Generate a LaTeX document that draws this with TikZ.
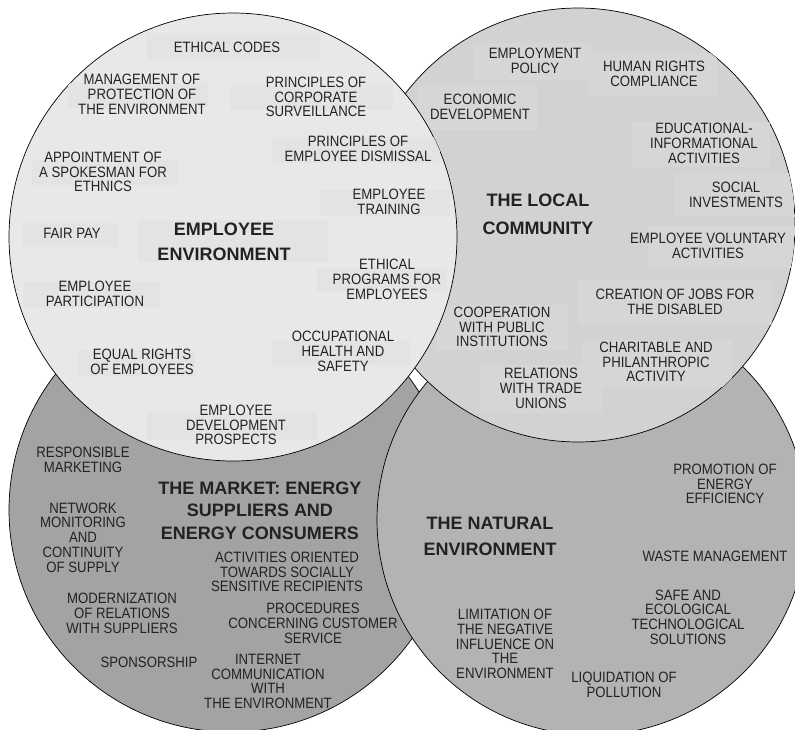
\documentclass[tikz,border=0pt]{standalone}
\usepackage{fontspec}
\setmainfont{Liberation Sans}
\newfontfamily\narrowfont{Liberation Sans}[FakeStretch=0.88]
\definecolor{tlfill}{HTML}{E8E8E8}
\definecolor{tlbox}{HTML}{E3E3E3}
\definecolor{trfill}{HTML}{D2D2D2}
\definecolor{trbox}{HTML}{D6D6D6}
\definecolor{blfill}{HTML}{A3A3A3}
\definecolor{brfill}{HTML}{B3B3B3}
\definecolor{txt}{HTML}{222222}
\tikzset{
  circ/.style={circle, draw=black, line width=0.7pt, inner sep=0pt},
  lbl/.style={align=center, inner sep=0pt, text=txt, font=\narrowfont\fontsize{15}{14.7}\selectfont},
  ttl/.style={align=center, inner sep=0pt, text=txt, font=\bfseries\fontsize{18}{25}\selectfont},
}
\begin{document}
\begin{tikzpicture}[x=1pt,y=-1pt]
\useasboundingbox (0,0) rectangle (795,729);
\clip (0,0) rectangle (795,729);
% circles (back to front)
\node[circ, fill=blfill, minimum size=444pt] (bl) at (231,510) {};
\node[circ, fill=brfill, minimum size=430pt] (br) at (592,520) {};
\node[circ, fill=trfill, minimum size=434pt] (tr) at (578,225) {};
\begin{scope}
  \clip (tr.center) circle[radius=217pt];
  \fill[trbox] (473,43) rectangle (592,80);
  \fill[trbox] (588,53) rectangle (717,97);
  \fill[trbox] (417,85) rectangle (537,130);
  \fill[trbox] (632,122) rectangle (770,167);
  \fill[trbox] (675,173) rectangle (795,217);
  \fill[trbox] (648,226) rectangle (795,268);
  \fill[trbox] (578,280) rectangle (772,325);
  \fill[trbox] (437,305) rectangle (568,350);
  \fill[trbox] (582,340) rectangle (732,387);
  \fill[trbox] (480,365) rectangle (602,413);
\end{scope}
\node[circ, fill=tlfill, minimum size=448pt] (tl) at (233,237) {};
\begin{scope}
  \clip (tl.center) circle[radius=224pt];
  \fill[tlbox] (147,33) rectangle (320,59);
  \fill[tlbox] (68,83) rectangle (208,108);
  \fill[tlbox] (230,85) rectangle (393,110);
  \fill[tlbox] (272,137) rectangle (440,163);
  \fill[tlbox] (320,190) rectangle (450,216);
  \fill[tlbox] (32,160) rectangle (178,185);
  \fill[tlbox] (23,223) rectangle (118,247);
  \fill[tlbox] (138,220) rectangle (328,262);
  \fill[tlbox] (23,282) rectangle (160,308);
  \fill[tlbox] (317,268) rectangle (447,292);
  \fill[tlbox] (272,340) rectangle (410,365);
  \fill[tlbox] (78,350) rectangle (195,376);
  \fill[tlbox] (147,413) rectangle (317,440);
\end{scope}
% employee environment
\node[lbl] (t1) at (227,47.5) {ETHICAL CODES};
\node[lbl] (t2) at (142,94.5) {MANAGEMENT OF\\PROTECTION OF\\THE ENVIRONMENT};
\node[lbl] (t3) at (316,97) {PRINCIPLES OF\\CORPORATE\\SURVEILLANCE};
\node[lbl] (t4) at (358,148.5) {PRINCIPLES OF\\EMPLOYEE DISMISSAL};
\node[lbl] (t5) at (389,201.5) {EMPLOYEE\\TRAINING};
\node[lbl] (t6) at (103,172) {APPOINTMENT OF\\A SPOKESMAN FOR\\ETHNICS};
\node[lbl] (t7) at (72,233) {FAIR PAY};
\node[ttl] (ttl1) at (224,241.5) {EMPLOYEE\\ENVIRONMENT};
\node[lbl] (t9) at (95,294) {EMPLOYEE\\PARTICIPATION};
\node[lbl] (t10) at (387,279.5) {ETHICAL\\PROGRAMS FOR\\EMPLOYEES};
\node[lbl] (t11) at (343,351.5) {OCCUPATIONAL\\HEALTH AND\\SAFETY};
\node[lbl] (t12) at (142,362) {EQUAL RIGHTS\\OF EMPLOYEES};
\node[lbl] (t13) at (236,425) {EMPLOYEE\\DEVELOPMENT\\PROSPECTS};
% local community
\node[lbl] (t14) at (535,61) {EMPLOYMENT\\POLICY};
\node[lbl] (t15) at (654,74) {HUMAN RIGHTS\\COMPLIANCE};
\node[lbl] (t16) at (480,106.5) {ECONOMIC\\DEVELOPMENT};
\node[lbl] (t17) at (704,143.5) {EDUCATIONAL-\\INFORMATIONAL\\ACTIVITIES};
\node[lbl] (t18) at (736,195) {SOCIAL\\INVESTMENTS};
\node[ttl, font=\bfseries\fontsize{18}{28}\selectfont] (ttl2) at (538,214) {THE LOCAL\\COMMUNITY};
\node[lbl] (t20) at (708,245.5) {EMPLOYEE VOLUNTARY\\ACTIVITIES};
\node[lbl] (t21) at (675,302) {CREATION OF JOBS FOR\\THE DISABLED};
\node[lbl] (t22) at (502,327) {COOPERATION\\WITH PUBLIC\\INSTITUTIONS};
\node[lbl] (t23) at (656,362) {CHARITABLE AND\\PHILANTHROPIC\\ACTIVITY};
\node[lbl] (t24) at (541,388.5) {RELATIONS\\WITH TRADE\\UNIONS};
% market
\node[lbl] (t25) at (83,460) {RESPONSIBLE\\MARKETING};
\node[ttl, font=\bfseries\fontsize{18}{22.5}\selectfont] (ttl3) at (260,510.5) {THE MARKET: ENERGY\\SUPPLIERS AND\\ENERGY CONSUMERS};
\node[lbl] (t27) at (83,537.5) {NETWORK\\MONITORING\\AND\\CONTINUITY\\OF SUPPLY};
\node[lbl] (t28) at (287,572) {ACTIVITIES ORIENTED\\TOWARDS SOCIALLY\\SENSITIVE RECIPIENTS};
\node[lbl] (t29) at (122,613.5) {MODERNIZATION\\OF RELATIONS\\WITH SUPPLIERS};
\node[lbl] (t30) at (313,623.5) {PROCEDURES\\CONCERNING CUSTOMER\\SERVICE};
\node[lbl] (t31) at (149,662) {SPONSORSHIP};
\node[lbl] (t32) at (268,681.5) {INTERNET\\COMMUNICATION\\WITH\\THE ENVIRONMENT};
% natural environment
\node[lbl] (t33) at (725,484) {PROMOTION OF\\ENERGY\\EFFICIENCY};
\node[ttl, font=\bfseries\fontsize{18}{26}\selectfont] (ttl4) at (490,536) {THE NATURAL\\ENVIRONMENT};
\node[lbl] (t35) at (715,556) {WASTE MANAGEMENT};
\node[lbl] (t36) at (688,617) {SAFE AND\\ECOLOGICAL\\TECHNOLOGICAL\\SOLUTIONS};
\node[lbl] (t37) at (505,644) {LIMITATION OF\\THE NEGATIVE\\INFLUENCE ON\\THE\\ENVIRONMENT};
\node[lbl] (t38) at (624,684.5) {LIQUIDATION OF\\POLLUTION};
\end{tikzpicture}
\end{document}
